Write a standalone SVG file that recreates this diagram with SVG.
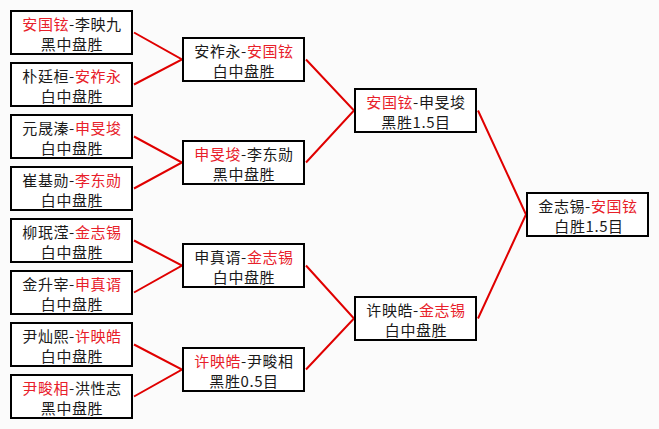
<svg xmlns="http://www.w3.org/2000/svg" width="659" height="429" viewBox="0 0 659 429">
<style>
.bx{fill:#ffffff;stroke:#000000;stroke-width:2}
.t{font-family:"Noto Sans CJK SC","Noto Sans",sans-serif;font-size:15px;fill:#1a1a1a;text-anchor:middle;letter-spacing:0.6px}
.r{fill:#e8202a}
.ln{stroke:#e00000;stroke-width:2;fill:none}
</style>
<rect width="659" height="429" fill="#fbfbfb"/>
<g id="connectors">
<path class="ln" d="M134 32.5L182 59.5L134 84.5"/>
<path class="ln" d="M134 136.5L182 162.5L134 188.5"/>
<path class="ln" d="M134 240.5L182 265.5L134 292.5"/>
<path class="ln" d="M134 344.5L182 369.5L134 396.5"/>
<path class="ln" d="M306 59.5L354 110.5L306 162.5"/>
<path class="ln" d="M306 265.5L354 318.5L306 369.5"/>
<path class="ln" d="M478 110.5L526 214.5L478 318.5"/>
</g>
<g id="n1"><rect class="bx" x="11" y="11" width="121" height="43"/><text class="t" x="72" y="30"><tspan class="r">安国铉</tspan>-李映九</text><text class="t" x="72" y="50">黑中盘胜</text></g>
<g id="n2"><rect class="bx" x="11" y="63" width="121" height="43"/><text class="t" x="72" y="82">朴廷桓-<tspan class="r">安祚永</tspan></text><text class="t" x="72" y="102">白中盘胜</text></g>
<g id="n3"><rect class="bx" x="11" y="115" width="121" height="43"/><text class="t" x="72" y="134">元晟溱-<tspan class="r">申旻埈</tspan></text><text class="t" x="72" y="154">白中盘胜</text></g>
<g id="n4"><rect class="bx" x="11" y="167" width="121" height="43"/><text class="t" x="72" y="186">崔基勋-<tspan class="r">李东勋</tspan></text><text class="t" x="72" y="206">白中盘胜</text></g>
<g id="n5"><rect class="bx" x="11" y="219" width="121" height="43"/><text class="t" x="72" y="238">柳珉滢-<tspan class="r">金志锡</tspan></text><text class="t" x="72" y="258">白中盘胜</text></g>
<g id="n6"><rect class="bx" x="11" y="271" width="121" height="43"/><text class="t" x="72" y="290">金升宰-<tspan class="r">申真谞</tspan></text><text class="t" x="72" y="310">白中盘胜</text></g>
<g id="n7"><rect class="bx" x="11" y="323" width="121" height="43"/><text class="t" x="72" y="342">尹灿熙-<tspan class="r">许映皓</tspan></text><text class="t" x="72" y="362">白中盘胜</text></g>
<g id="n8"><rect class="bx" x="11" y="375" width="121" height="43"/><text class="t" x="72" y="394"><tspan class="r">尹畯相</tspan>-洪性志</text><text class="t" x="72" y="414">黑中盘胜</text></g>
<g id="q1"><rect class="bx" x="183" y="38" width="121" height="43"/><text class="t" x="244" y="57">安祚永-<tspan class="r">安国铉</tspan></text><text class="t" x="244" y="77">白中盘胜</text></g>
<g id="q2"><rect class="bx" x="183" y="141" width="121" height="43"/><text class="t" x="244" y="160"><tspan class="r">申旻埈</tspan>-李东勋</text><text class="t" x="244" y="180">黑中盘胜</text></g>
<g id="q3"><rect class="bx" x="183" y="244" width="121" height="43"/><text class="t" x="244" y="263">申真谞-<tspan class="r">金志锡</tspan></text><text class="t" x="244" y="283">白中盘胜</text></g>
<g id="q4"><rect class="bx" x="183" y="348" width="121" height="43"/><text class="t" x="244" y="367"><tspan class="r">许映皓</tspan>-尹畯相</text><text class="t" x="244" y="387">黑胜0.5目</text></g>
<g id="s1"><rect class="bx" x="355" y="89" width="121" height="43"/><text class="t" x="416" y="108"><tspan class="r">安国铉</tspan>-申旻埈</text><text class="t" x="416" y="128">黑胜1.5目</text></g>
<g id="s2"><rect class="bx" x="355" y="297" width="121" height="43"/><text class="t" x="416" y="316">许映皓-<tspan class="r">金志锡</tspan></text><text class="t" x="416" y="336">白中盘胜</text></g>
<g id="f"><rect class="bx" x="527" y="193" width="121" height="43"/><text class="t" x="588" y="212">金志锡-<tspan class="r">安国铉</tspan></text><text class="t" x="589" y="232">白胜1.5目</text></g>
</svg>
